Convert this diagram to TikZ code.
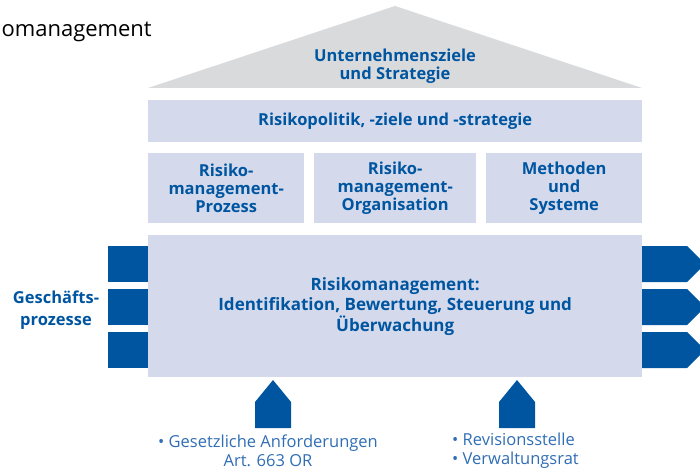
\documentclass[tikz,border=0pt]{standalone}
\usepackage{fontspec}
\setmainfont{Open Sans}
\usetikzlibrary{positioning}
\definecolor{dunkelblau}{HTML}{0055A0}
\definecolor{hellblau}{HTML}{D4DAEC}
\definecolor{dachgrau}{HTML}{D9DADC}
\definecolor{textblau}{HTML}{2F6DB5}
\tikzset{font=\fontsize{17}{18}\selectfont}
\tikzset{feld/.style={fill=hellblau,text=dunkelblau,font=\fontsize{16.5}{18}\selectfont\bfseries,align=center,inner sep=0pt,anchor=north west}}
\tikzset{marke/.style={text=dunkelblau,font=\fontsize{16.5}{21.5}\selectfont\bfseries,align=center}}
\tikzset{liste/.style={text=textblau,font=\fontsize{16.5}{19}\selectfont,align=left,inner sep=0pt}}

\begin{document}
\begin{tikzpicture}[x=1pt,y=-1pt]
  \useasboundingbox (0,0) rectangle (700,470);
  \clip (0,0) rectangle (700,470);
  \node[anchor=west,font=\fontsize{22}{24}\selectfont] (titel) at (-2,32) {omanagement};
  % Dach
  \fill[dachgrau] (148,88) -- (395,6) -- (642,88) -- cycle;
  \node[marke,font=\fontsize{16.5}{17.5}\selectfont\bfseries] (ziele) at (395,66) {Unternehmensziele\\und Strategie};
  \node[feld,minimum width=494pt,minimum height=42pt] (politik) at (148,100) {Risikopolitik, -ziele und -strategie};
  \node[feld,minimum width=156pt,minimum height=70pt] (prozess) at (148,153) {Risiko-\\management-\\Prozess};
  \node[feld,minimum width=162pt,minimum height=70pt] (organisation) at (314,153) {Risiko-\\management-\\Organisation};
  \node[feld,minimum width=156pt,minimum height=70pt] (methoden) at (486,153) {Methoden\\und\\Systeme};
  \node[feld,minimum width=494pt,minimum height=142pt,font=\fontsize{17}{20.5}\selectfont\bfseries] (kern) at (148,235)
    {Risikomanagement:\\Identifikation, Bewertung, Steuerung und\\Überwachung};
  % Geschaeftsprozesse
  \foreach \y in {246,289,332} {
    \fill[dunkelblau] (108,\y) rectangle (148,\y+36);
    \fill[dunkelblau] (642,\y) -- (687,\y) -- (705,\y+18) -- (687,\y+36) -- (642,\y+36) -- cycle;
  }
  \node[marke] (geschaeft) at (56,310) {Geschäfts-\\prozesse};
  % Einfluesse von unten
  \foreach \x in {255,499}
    \fill[dunkelblau] (\x,428) -- (\x,402) -- (\x+18,380) -- (\x+36,402) -- (\x+36,428) -- cycle;
  \node[liste,align=center] (gesetz) at (268,451) {• Gesetzliche Anforderungen\\Art. 663 OR};
  \node[liste,anchor=west] (revision) at (452,451) {• Revisionsstelle\\• Verwaltungsrat};
\end{tikzpicture}
\end{document}
